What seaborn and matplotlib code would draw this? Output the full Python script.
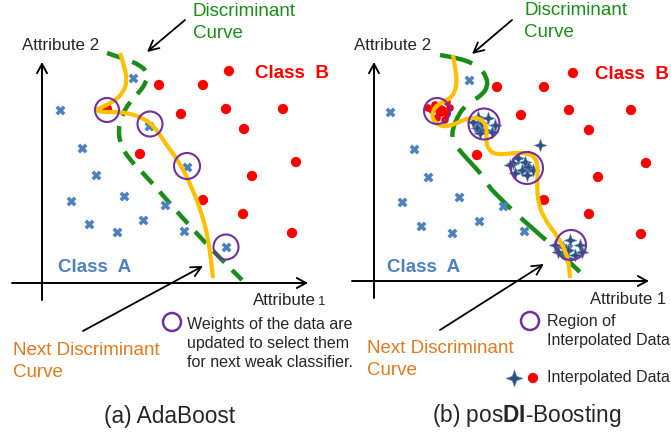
import matplotlib
matplotlib.use("Agg")
import matplotlib.pyplot as plt
from matplotlib.path import Path
from matplotlib.patches import PathPatch, Circle
import seaborn as sns

# ---------------- panel (a) AdaBoost ----------------
a_b_x = [229, 159, 203, 181, 226, 283, 244, 140, 296, 252, 203, 243, 292, 107]
a_b_y = [71, 85, 85, 114, 109, 109, 129, 154, 162, 176, 200, 214, 233, 109]
a_a_x = [133, 60, 149, 82, 187, 96, 71, 124, 165, 89, 143, 117, 184, 226]
a_a_y = [78, 110, 126, 148, 167, 175, 201, 196, 205, 224, 220, 232, 231, 247]
a_circ = [(107, 110, 12), (150, 124, 12.5), (187, 166, 13), (226, 247, 12.5)]
a_green_x = [107, 125, 140, 148, 146, 137, 128, 122, 118, 121, 130, 143, 160, 180, 200, 220, 242]
a_green_y = [53, 59, 65, 73, 83, 95, 104, 116, 130, 146, 160, 173, 192, 215, 237, 258, 280]
a_gold_x = [120, 125, 127, 123, 113, 100, 96, 102, 115, 128, 143, 155, 165, 180, 193, 203, 209, 213]
a_gold_y = [53, 68, 82, 93, 102, 108, 110, 112, 112, 113, 118, 127, 143, 163, 190, 217, 243, 278]

# ---------------- panel (b) posDI-Boosting ----------------
b_b_x = [573, 497, 544, 521, 569, 631, 589, 477, 646, 598, 544, 589, 641]
b_b_y = [73, 87, 87, 115, 110, 110, 130, 155, 163, 177, 200, 214, 234]
b_a_x = [469, 390, 414, 428, 402, 459, 503, 421, 479, 452, 524, 478, 527, 568]
b_a_y = [80, 112, 149, 177, 202, 197, 206, 226, 221, 233, 231, 128, 168, 248]
b_new_red_x = [441, 435, 447, 450, 447, 437, 432, 445, 428]
b_new_red_y = [111, 105, 102, 108, 114, 118, 110, 120, 108]
b_new_red_s = [70, 30, 30, 30, 30, 30, 30, 30, 30]
b_star_x = [478, 488, 482, 477, 485, 495, 492, 480, 473,
            540, 513, 518, 525, 528, 522, 515, 527, 533, 510,
            570, 580, 563, 568, 558, 575, 567, 555, 582]
b_star_y = [117, 118, 123, 128, 130, 125, 132, 133, 122,
            145, 163, 158, 162, 167, 170, 173, 175, 170, 165,
            240, 245, 247, 250, 252, 255, 258, 245, 252]
b_circ = [(437, 111, 13), (484, 124, 15.5), (527, 168, 16), (571, 245, 15)]
b_green_x = [440, 458, 472, 480, 486, 488, 482, 472, 463, 457, 453, 452, 455, 460,
             471, 482, 489, 500, 512, 523, 547, 560, 582]
b_green_y = [55, 58, 63, 68, 76, 86, 95, 101, 108, 118, 128, 137, 144, 151,
             163, 175, 187, 198, 210, 220, 241, 253, 274]
b_gold_x = [453, 455, 457, 455, 448, 438, 432, 433, 442, 453, 463, 475, 484, 487, 486,
            488, 496, 513, 527, 535, 538, 537, 538, 545, 558, 566, 569, 570]
b_gold_y = [55, 67, 80, 93, 100, 104, 112, 121, 127, 125, 120, 117, 121, 130, 140,
            149, 155, 153, 153, 157, 167, 183, 203, 220, 237, 252, 265, 278]

RED = "#FF0000"
BLUE = "#4F81BD"
GREEN = "#1A8C1A"
GOLD = "#FFC000"
PURPLE = "#7030A0"
ORANGE_TXT = "#E07A1F"
STAR = "#2E4F80"

sns.set_theme(style="white")
plt.rcParams["font.family"] = ["Liberation Sans", "DejaVu Sans"]
plt.rcParams["mathtext.fontset"] = "custom"
plt.rcParams["mathtext.rm"] = "Liberation Sans"
plt.rcParams["mathtext.bf"] = "Liberation Sans:bold"

fig = plt.figure(figsize=(6.71, 4.37), dpi=100)
ax = fig.add_axes([0, 0, 1, 1])
ax.set_xlim(0, 671)
ax.set_ylim(437, 0)
ax.axis("off")

k = 0.26
star_marker = Path([(0, 1), (k, k), (1, 0), (k, -k), (0, -1),
                    (-k, -k), (-1, 0), (-k, k), (0, 1)],
                   [Path.MOVETO] + [Path.LINETO] * 7 + [Path.CLOSEPOLY])


def smooth(xs, ys):
    pts = list(zip(xs, ys))
    verts, codes = [pts[0]], [Path.MOVETO]
    for i in range(1, len(pts) - 1):
        mid = ((pts[i][0] + pts[i + 1][0]) / 2, (pts[i][1] + pts[i + 1][1]) / 2)
        verts += [pts[i], mid]
        codes += [Path.CURVE3, Path.CURVE3]
    verts.append(pts[-1])
    codes.append(Path.LINETO)
    return Path(verts, codes)


def axes_arrows(x0, y_axis_bottom, x_axis_y, x_left, x_right, y_top):
    kw = dict(arrowstyle="->,head_length=0.55,head_width=0.3", color="black", lw=1.4,
              shrinkA=0, shrinkB=0)
    ax.annotate("", xy=(x0, y_top), xytext=(x0, y_axis_bottom), arrowprops=kw)
    ax.annotate("", xy=(x_right, x_axis_y), xytext=(x_left, x_axis_y), arrowprops=kw)


def pointer(xy, xytext):
    ax.annotate("", xy=xy, xytext=xytext,
                arrowprops=dict(arrowstyle="->,head_length=0.6,head_width=0.3",
                                color="black", lw=1.3, shrinkA=0, shrinkB=0))


def label(x, y, s, **kw):
    ax.text(x, y, s, va="baseline", ha=kw.pop("ha", "left"), **kw)


# axes of both panels
axes_arrows(42, 300, 283, 12, 308, 62)
axes_arrows(374, 298, 281, 352, 649, 62)

# discriminant curves (green dashed)
ax.add_patch(PathPatch(smooth(a_green_x, a_green_y), fill=False, ec=GREEN, lw=3.2,
                       ls=(0, (3.6, 2.4)), capstyle="butt", zorder=2))
ax.add_patch(PathPatch(smooth(b_green_x, b_green_y), fill=False, ec=GREEN, lw=3.2,
                       ls=(0, (7.5, 3.0)), capstyle="butt", zorder=2))

# data points
sns.scatterplot(x=a_b_x, y=a_b_y, color=RED, s=55, edgecolor="none", ax=ax, zorder=3)
sns.scatterplot(x=b_b_x, y=b_b_y, color=RED, s=55, edgecolor="none", ax=ax, zorder=3)
sns.scatterplot(x=a_a_x, y=a_a_y, color=BLUE, marker="x", s=28, linewidth=2.6, ax=ax, zorder=3)
sns.scatterplot(x=b_a_x, y=b_a_y, color=BLUE, marker="x", s=28, linewidth=2.6, ax=ax, zorder=3)
sns.scatterplot(x=b_new_red_x, y=b_new_red_y, size=b_new_red_s, sizes=(30, 70),
                color=RED, edgecolor="none", legend=False, ax=ax, zorder=3)
sns.scatterplot(x=b_star_x, y=b_star_y, color=STAR, marker=star_marker, s=85,
                edgecolor="#6A8BBA", linewidth=0.4, ax=ax, zorder=3)

# next discriminant curves (gold)
ax.add_patch(PathPatch(smooth(a_gold_x, a_gold_y), fill=False, ec=GOLD, lw=3.0,
                       capstyle="butt", joinstyle="round", zorder=4))
ax.add_patch(PathPatch(smooth(b_gold_x, b_gold_y), fill=False, ec=GOLD, lw=3.0,
                       capstyle="butt", joinstyle="round", zorder=4))

for cx, cy, r in a_circ + b_circ:
    ax.add_patch(Circle((cx, cy), r, fill=False, ec=PURPLE, lw=1.5, zorder=5))

# axis labels
label(22, 50, "Attribute 2", fontsize=12.2)
label(354, 50, "Attribute 2", fontsize=12.2)
label(253, 305, "Attribute", fontsize=12.2)
label(318, 305, "1", fontsize=9.5)
label(590, 304, "Attribute 1", fontsize=12)

# class labels
label(255, 78, "Class  B", fontsize=13.5, fontweight="bold", color=RED)
label(595, 79, "Class  B", fontsize=13.5, fontweight="bold", color=RED)
label(58, 272, "Class  A", fontsize=13.5, fontweight="bold", color=BLUE)
label(387, 272, "Class  A", fontsize=13.5, fontweight="bold", color=BLUE)

# discriminant curve callouts
for x0, y0 in [(193, 16), (524, 15)]:
    label(x0, y0, "Discriminant", fontsize=13.5, color=GREEN)
    label(x0, y0 + 22, "Curve", fontsize=13.5, color=GREEN)
pointer((147, 52), (185, 20))
pointer((472, 54), (512, 20))

# next discriminant curve callouts
for x0, y0 in [(13, 355), (367, 353)]:
    label(x0, y0, "Next Discriminant", fontsize=13.5, color=ORANGE_TXT)
    label(x0, y0 + 22, "Curve", fontsize=13.5, color=ORANGE_TXT)
pointer((203, 266), (83, 331))
pointer((544, 264), (440, 330))

# legends
ax.add_patch(Circle((172, 322), 9, fill=False, ec=PURPLE, lw=1.8))
for i, line in enumerate(["Weights of the data are", "updated to select them",
                          "for next weak classifier."]):
    label(187, 329 + 19 * i, line, fontsize=11.5)
ax.add_patch(Circle((530, 321), 9, fill=False, ec=PURPLE, lw=1.8))
label(547, 326, "Region of", fontsize=11.5)
label(547, 345, "Interpolated Data", fontsize=11.5)
sns.scatterplot(x=[514], y=[378], color=STAR, marker=star_marker, s=150,
                edgecolor="#6A8BBA", linewidth=0.4, ax=ax)
sns.scatterplot(x=[533], y=[378], color=RED, s=55, edgecolor="none", ax=ax)
label(547, 382, "Interpolated Data", fontsize=11.5)

# panel titles
label(169, 423, "(a) AdaBoost", fontsize=16.3, ha="center")
label(527, 422, r"(b) pos$\mathbf{DI}$-Boosting", fontsize=16.3, ha="center")

fig.savefig("out.png", dpi=100)
